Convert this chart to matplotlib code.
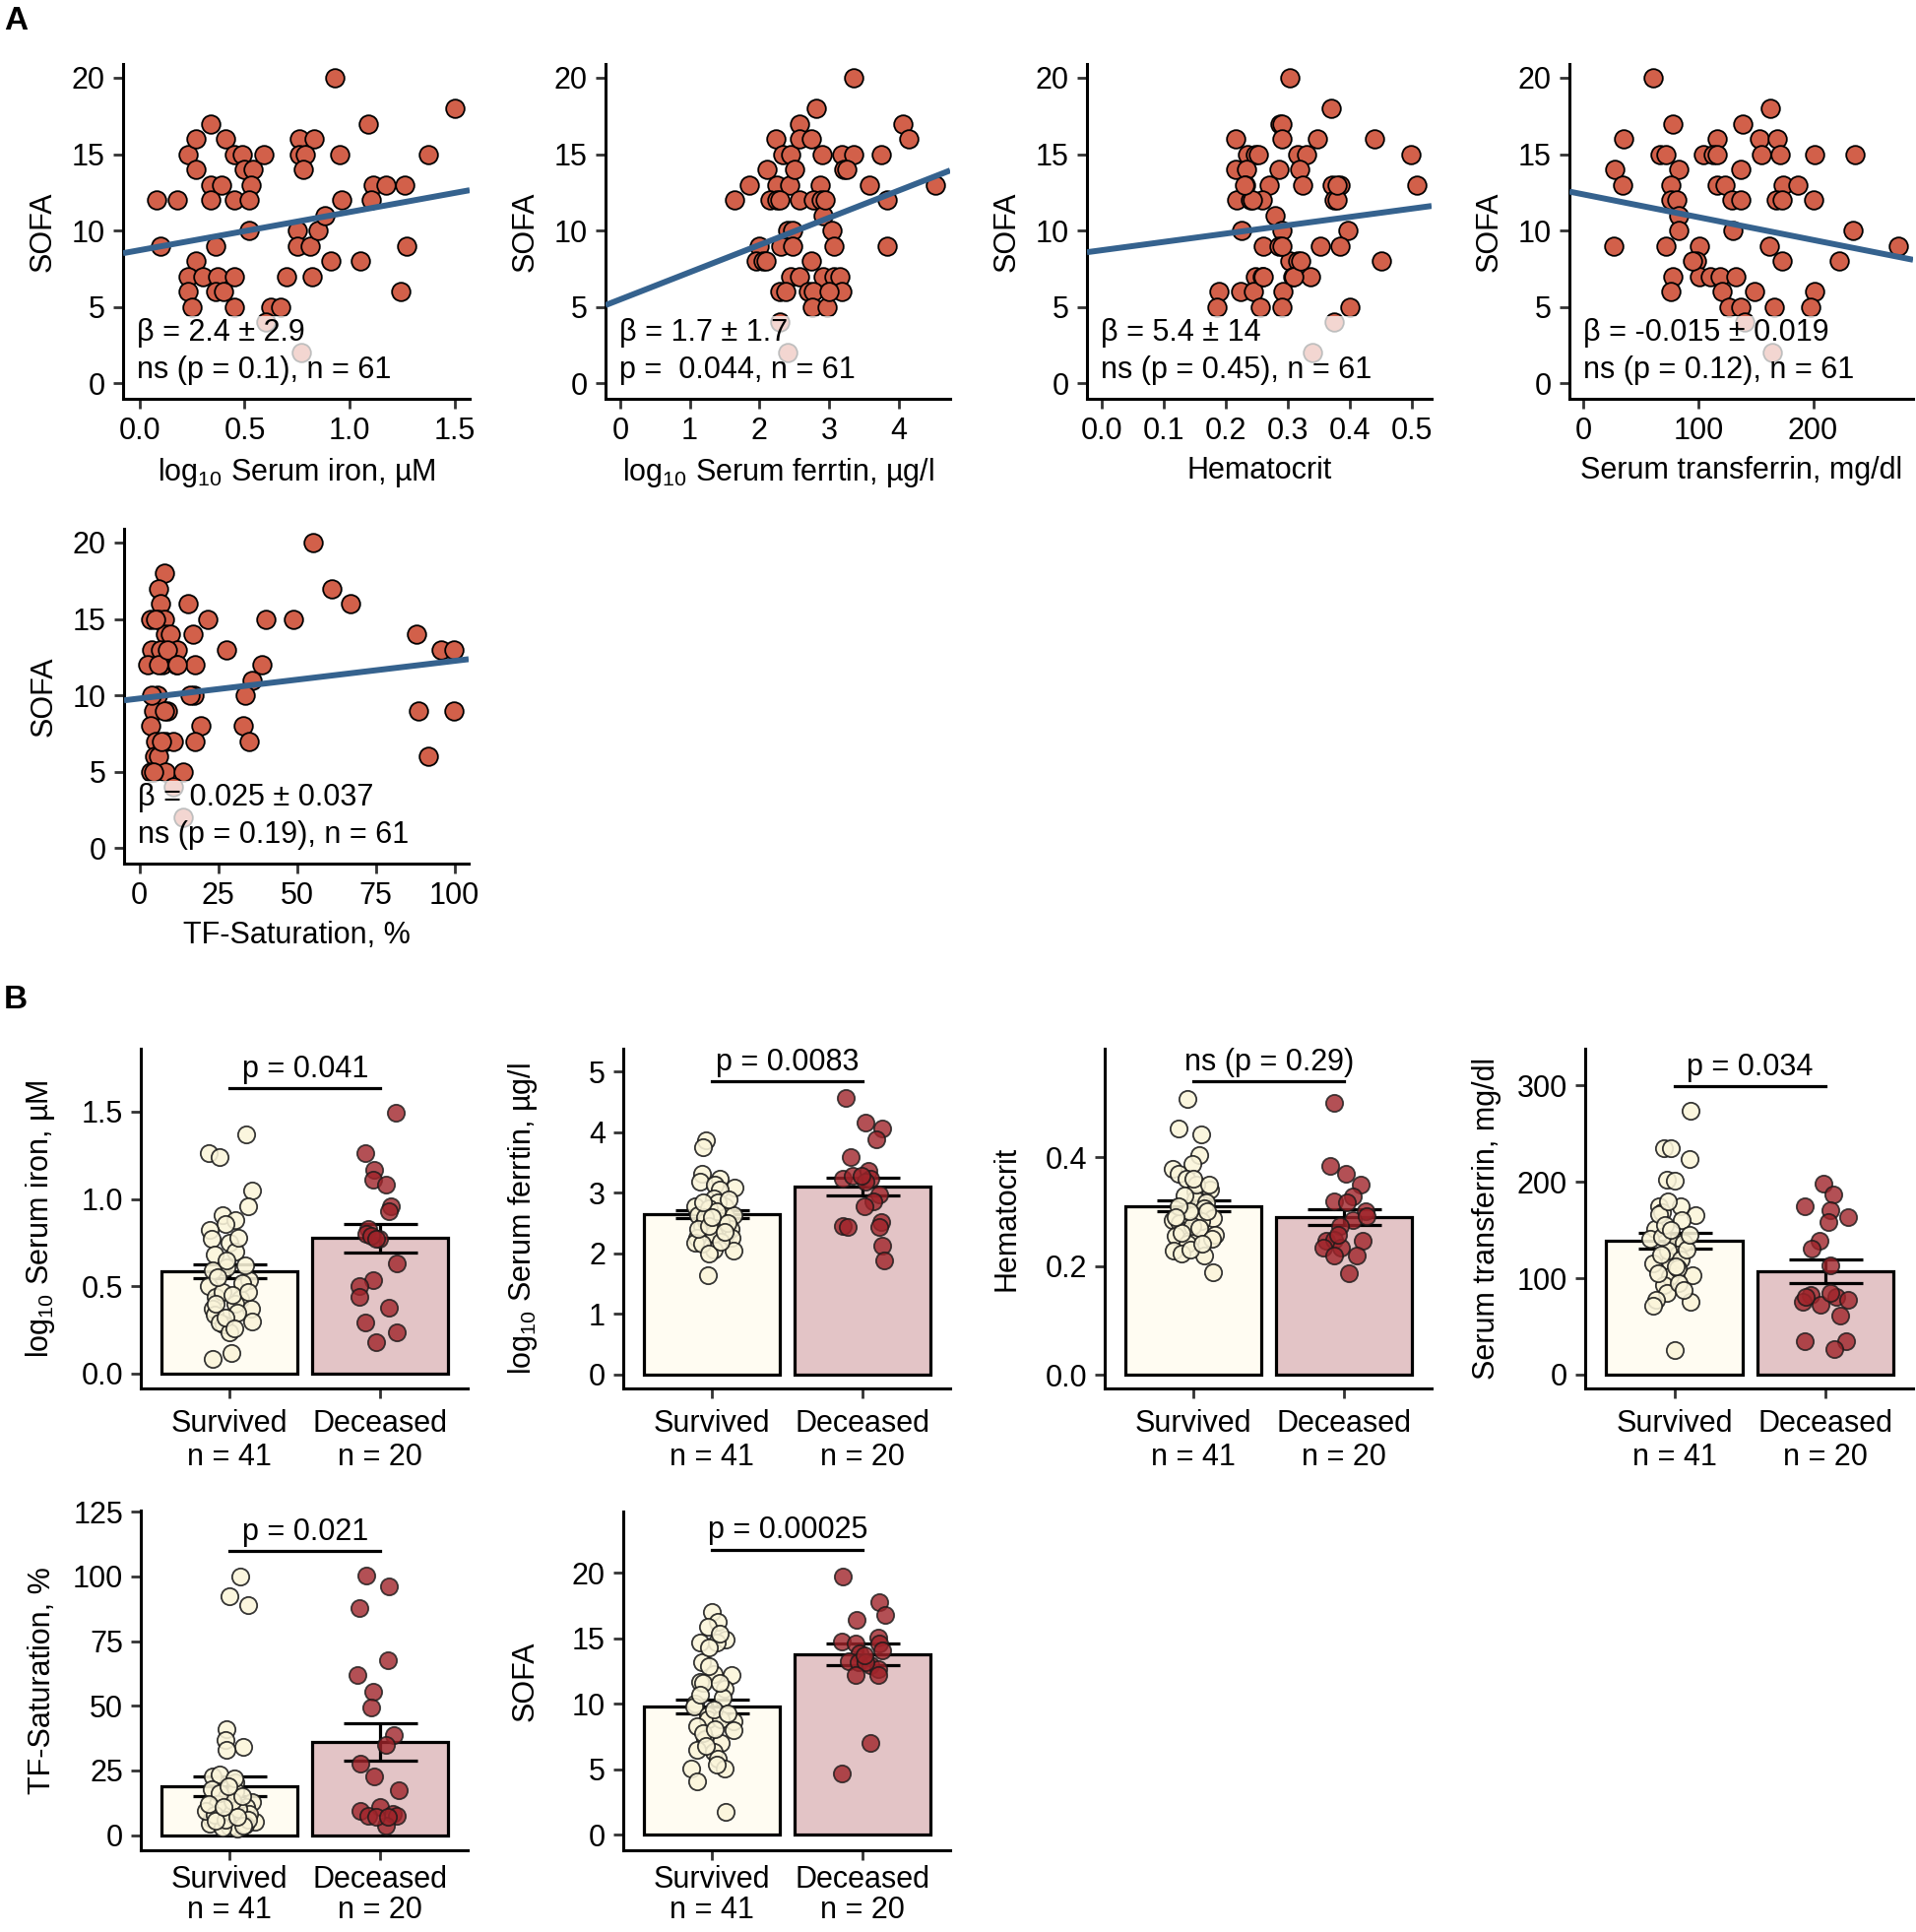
import numpy as np
import matplotlib
matplotlib.use('Agg')
import matplotlib.pyplot as plt

plt.rcParams['font.family'] = ['Liberation Sans', 'DejaVu Sans']
plt.rcParams['mathtext.fontset'] = 'custom'
plt.rcParams['mathtext.rm'] = 'Liberation Sans'
plt.rcParams['mathtext.it'] = 'Liberation Sans:italic'
plt.rcParams['mathtext.bf'] = 'Liberation Sans:bold'

# ---------------- panel A: SOFA vs iron parameters ----------------
iron_x = [0.083, 0.18, 0.10, 0.23, 0.27, 0.27, 0.34, 0.34, 0.39, 0.34, 0.41, 0.45, 0.49, 0.50, 0.54, 0.53,
          0.45, 0.52, 0.59, 0.52, 0.36, 0.27, 0.23, 0.30, 0.37, 0.45, 0.23, 0.36, 0.40, 0.25, 0.45, 0.625,
          0.67, 0.70, 0.60, 0.77, 0.76, 0.83, 0.76, 0.79, 0.78, 0.75, 0.75, 0.81, 0.85, 0.88, 0.82, 0.91,
          0.93, 0.95, 0.96, 1.09, 1.11, 1.10, 1.17, 1.26, 1.05, 1.27, 1.24, 1.375, 1.5]
iron_sofa = [12, 12, 9, 15, 16, 14, 17, 13, 13, 12, 16, 15, 15, 14, 14, 13, 12, 12, 15, 10, 9, 8, 7, 7, 7, 7,
             6, 6, 6, 5, 5, 5, 5, 7, 4, 2, 16, 16, 15, 15, 14, 10, 9, 9, 10, 11, 7, 8, 20, 15, 12, 17, 13, 12,
             13, 13, 8, 9, 6, 15, 18]

fer_x = [1.64, 1.85, 2.11, 2.23, 2.33, 2.45, 2.25, 2.44, 2.15, 2.25, 2.50, 2.57, 2.58, 2.57, 2.74, 2.81, 2.90,
         2.88, 2.78, 2.89, 2.92, 3.04, 3.07, 3.18, 3.35, 3.21, 3.25, 3.35, 3.58, 3.75, 3.84, 3.84, 4.06, 4.14,
         4.53, 2.40, 2.48, 2.0, 2.31, 2.48, 1.96, 2.05, 2.74, 2.45, 2.57, 2.92, 3.07, 3.15, 2.29, 2.38, 2.71,
         2.78, 3.18, 2.76, 2.97, 2.29, 2.40, 2.3, 2.95, 2.1, 3.0]
fer_sofa = [12, 13, 14, 16, 15, 15, 13, 13, 12, 12, 14, 12, 17, 16, 16, 18, 15, 13, 12, 12, 11, 10, 9, 15, 15,
            14, 14, 20, 13, 15, 12, 9, 17, 16, 13, 10, 10, 9, 9, 9, 8, 8, 8, 7, 7, 7, 7, 7, 6, 6, 6, 6, 6, 5, 5,
            4, 2, 12, 12, 8, 6]

hct_x = [0.303, 0.37, 0.287, 0.29, 0.216, 0.29, 0.348, 0.44, 0.235, 0.247, 0.253, 0.316, 0.33, 0.499, 0.216,
         0.234, 0.286, 0.319, 0.232, 0.27, 0.324, 0.372, 0.385, 0.508, 0.217, 0.24, 0.258, 0.375, 0.38, 0.28,
         0.226, 0.29, 0.397, 0.26, 0.286, 0.353, 0.385, 0.303, 0.316, 0.451, 0.247, 0.258, 0.308, 0.337, 0.189,
         0.224, 0.245, 0.292, 0.185, 0.255, 0.29, 0.40, 0.374, 0.34, 0.243, 0.31, 0.32, 0.29, 0.23, 0.38, 0.26]
hct_sofa = [20, 18, 17, 17, 16, 16, 16, 16, 15, 15, 15, 15, 15, 15, 14, 14, 14, 14, 13, 13, 13, 13, 13, 13, 12,
            12, 12, 12, 12, 11, 10, 10, 10, 9, 9, 9, 9, 8, 8, 8, 7, 7, 7, 7, 6, 6, 6, 6, 5, 5, 5, 5, 4, 2, 12, 7,
            8, 9, 13, 13, 7]

trf_x = [61, 163, 78, 139, 35, 116, 153, 169, 67, 72, 104, 113, 155, 171, 201, 236, 27, 83, 137, 34, 76, 116,
         123, 174, 187, 76, 81, 129, 137, 168, 173, 200, 83, 83, 130, 235, 26, 72, 101, 162, 274, 98, 173, 223,
         78, 101, 110, 119, 133, 76, 121, 149, 201, 127, 137, 166, 198, 140, 164, 116, 95]
trf_sofa = [20, 18, 17, 17, 16, 16, 16, 16, 15, 15, 15, 15, 15, 15, 15, 15, 14, 14, 14, 13, 13, 13, 13, 13, 13,
            12, 12, 12, 12, 12, 12, 12, 11, 10, 10, 10, 9, 9, 9, 9, 9, 8, 8, 8, 7, 7, 7, 7, 7, 6, 6, 6, 6, 5, 5,
            5, 5, 4, 2, 15, 8]

sat_x = [55, 7.8, 6, 61, 6.8, 15.3, 67, 3.4, 6, 7.8, 21.6, 40, 48.8, 8.3, 9.7, 17, 87.8, 3.9, 6.6, 12, 27.6,
         95.8, 99.7, 2.6, 7.3, 11.8, 17.7, 38.9, 35.7, 5.7, 17.2, 33.6, 4.5, 8.9, 88.5, 99.7, 3.6, 19.5, 32.8,
         5, 8.1, 10.7, 17.7, 34.9, 4.7, 6, 91.7, 3.6, 8.3, 13.9, 10.7, 14, 5, 6, 4, 7, 9, 4.5, 12, 16, 8]
sat_sofa = [20, 18, 17, 17, 16, 16, 16, 15, 15, 15, 15, 15, 15, 14, 14, 14, 14, 13, 13, 13, 13, 13, 13, 12, 12,
            12, 12, 12, 11, 10, 10, 10, 9, 9, 9, 9, 8, 8, 8, 7, 7, 7, 7, 7, 6, 6, 6, 5, 5, 5, 4, 2, 15, 12, 10,
            7, 13, 5, 12, 10, 9]

# linear fits (intercept, slope) as drawn in the figure
iron_fit = (8.72, 2.5)
fer_fit = (5.5, 1.78)
hct_fit = (8.72, 5.44)
trf_fit = (12.37, -0.0149)
sat_fit = (9.8, 0.0246)

iron_label = 'β = 2.4 ± 2.9\nns (p = 0.1), n = 61'
fer_label = 'β = 1.7 ± 1.7\np =  0.044, n = 61'
hct_label = 'β = 5.4 ± 14\nns (p = 0.45), n = 61'
trf_label = 'β = -0.015 ± 0.019\nns (p = 0.12), n = 61'
sat_label = 'β = 0.025 ± 0.037\nns (p = 0.19), n = 61'

# ---------------- panel B: survived vs deceased ----------------
groups = ['Survived\nn = 41', 'Deceased\nn = 20']

iron_surv = [1.37, 1.26, 1.24, 1.05, 0.96, 0.91, 0.88, 0.855, 0.82, 0.77, 0.75, 0.70, 0.68, 0.61, 0.59, 0.535,
             0.50, 0.44, 0.43, 0.40, 0.37, 0.37, 0.35, 0.34, 0.30, 0.28, 0.29, 0.235, 0.12, 0.085, 0.52, 0.47,
             0.45, 0.55, 0.62, 0.65, 0.78, 0.40, 0.47, 0.32, 0.26]
iron_surv_dx = [0.11, -0.14, -0.065, 0.15, 0.12, -0.05, 0.04, -0.03, -0.13, -0.12, 0, 0.04, -0.1, -0.02, -0.11,
                0.13, -0.14, -0.09, 0.07, 0.04, -0.11, 0.14, 0.05, -0.1, 0.15, -0.04, -0.07, 0, 0.01, -0.11,
                0.08, -0.05, 0.02, -0.08, 0.1, -0.02, 0.06, -0.09, 0.12, -0.03, 0.03]
iron_dec = [1.495, 1.26, 1.165, 1.11, 1.08, 0.96, 0.93, 0.83, 0.80, 0.77, 0.79, 0.63, 0.535, 0.50, 0.44, 0.375,
            0.29, 0.235, 0.18, 0.77]
iron_dec_dx = [0.10, -0.10, -0.04, -0.05, 0.04, 0.07, 0.06, -0.08, -0.09, -0.01, -0.06, 0.11, -0.05, -0.14,
               -0.14, 0.06, -0.10, 0.11, -0.03, -0.03]

fer_surv = [3.86, 3.75, 3.32, 3.19, 3.24, 3.13, 3.08, 3.05, 2.91, 2.78, 2.78, 2.64, 2.62, 2.64, 2.45, 2.40,
            2.37, 2.32, 2.26, 2.26, 2.18, 2.07, 2.05, 1.64, 2.85, 2.53, 2.75, 2.53, 2.32, 2.16, 1.99, 2.7, 2.6,
            2.5, 2.4, 2.2, 2.45, 2.9, 2.85, 2.6, 2.35]
fer_surv_dx = [-0.04, -0.06, -0.07, -0.08, 0.05, 0.02, 0.15, 0.05, 0.01, -0.11, 0.08, -0.09, 0.09, 0.14, -0.07,
               0.12, 0.05, 0.09, -0.10, 0.13, -0.11, 0.01, 0.14, -0.03, 0.04, -0.04, -0.02, 0.06, 0.01, -0.07,
               -0.02, 0.03, -0.05, 0.1, -0.09, 0.06, -0.02, 0.11, -0.06, 0.0, 0.08]
fer_dec = [4.57, 4.16, 4.06, 3.89, 3.59, 3.24, 3.29, 3.37, 3.24, 3.19, 2.97, 2.86, 2.78, 2.45, 2.43, 2.51, 2.43,
           2.13, 1.89, 3.29]
fer_dec_dx = [-0.11, 0.02, 0.13, 0.09, -0.08, -0.13, -0.07, 0.04, 0.05, 0.02, 0.11, 0.07, 0.01, -0.13, -0.10,
              0.12, 0.11, 0.13, 0.14, -0.01]

hct_surv = [0.507, 0.452, 0.442, 0.403, 0.388, 0.378, 0.37, 0.36, 0.337, 0.34, 0.322, 0.316, 0.306, 0.294,
            0.285, 0.288, 0.279, 0.264, 0.258, 0.255, 0.249, 0.241, 0.228, 0.222, 0.219, 0.189, 0.282, 0.273,
            0.35, 0.33, 0.30, 0.30, 0.27, 0.31, 0.25, 0.23, 0.24, 0.26, 0.36, 0.35, 0.29]
hct_surv_dx = [-0.04, -0.10, 0.05, 0.04, -0.01, -0.14, -0.10, -0.05, 0.01, 0.11, 0.01, 0.08, 0.07, 0, -0.14,
               0.13, -0.09, -0.07, 0.14, -0.12, -0.02, -0.04, -0.13, -0.08, 0.07, 0.13, 0.05, -0.01, 0.02,
               -0.06, 0.09, -0.03, 0.04, -0.1, 0.12, -0.02, 0.06, -0.08, 0.0, 0.1, -0.12]
hct_dec = [0.50, 0.384, 0.37, 0.349, 0.319, 0.328, 0.316, 0.30, 0.285, 0.273, 0.246, 0.249, 0.246, 0.234,
           0.234, 0.219, 0.219, 0.186, 0.291, 0.258]
hct_dec_dx = [-0.07, -0.09, 0.01, 0.11, -0.07, 0.06, 0.02, 0.14, 0.06, -0.03, -0.12, -0.07, 0.12, -0.02, -0.14,
              -0.07, 0.08, 0.03, 0.15, -0.04]

trf_surv = [274, 235, 235, 224, 202, 201, 175, 175, 168, 165, 151, 141, 137, 137, 125, 115, 117, 103, 102, 93,
            85, 78, 71, 76, 25.6, 166, 129, 119, 143, 110, 160, 155, 130, 105, 95, 150, 145, 125, 88, 180, 112]
trf_surv_dx = [0.11, -0.07, -0.02, 0.10, -0.05, 0, 0.04, -0.10, -0.08, 0.14, -0.13, -0.16, -0.01, 0.06, 0.02,
               -0.14, -0.03, 0.12, -0.03, -0.07, -0.05, -0.12, -0.14, 0.11, 0, -0.10, -0.04, 0.04, -0.08, 0.02,
               0.05, -0.06, 0.08, -0.11, 0.03, -0.02, 0.1, -0.09, 0.06, -0.04, 0.01]
trf_dec = [198, 187, 175, 171, 163, 158, 139, 131, 113, 83, 81, 78, 76, 73, 61, 35, 35, 27, 81, 85]
trf_dec_dx = [-0.01, 0.05, -0.14, 0.03, 0.15, 0.02, -0.04, -0.09, 0.03, -0.10, 0.07, 0.15, -0.15, -0.03, 0.10,
              -0.14, 0.14, 0.06, -0.13, 0.03]

sat_surv = [100, 92.4, 88.9, 41, 36.6, 34, 32.8, 22.7, 23.3, 20.2, 17.7, 14.5, 12.6, 10.7, 7.6, 6.3, 5, 3.2,
            2.5, 4.4, 8.2, 9.5, 12, 17, 9.5, 3, 4, 8, 10, 6, 13, 16, 15, 6, 12, 22, 19, 3.5, 5.5, 7, 11]
sat_surv_dx = [0.07, 0, 0.12, -0.02, -0.03, 0.09, -0.02, -0.11, -0.07, 0.04, -0.12, -0.02, 0.15, 0.11, 0.08,
               -0.12, 0.17, 0, 0.05, -0.13, 0.13, 0, -0.08, 0.04, -0.16, -0.05, 0.1, -0.1, 0.06, -0.03, 0.02,
               -0.07, 0.08, 0.12, -0.14, 0.03, -0.01, 0.09, -0.09, 0.05, -0.04]
sat_dec = [100.3, 96.3, 87.9, 67.5, 61.8, 55.5, 49.2, 38.7, 34.9, 27.7, 22.7, 17.3, 9.5, 10.7, 7.6, 8.2, 7.6,
           3.8, 6.9, 6.9]
sat_dec_dx = [-0.09, 0.06, -0.14, 0.05, -0.15, -0.05, -0.06, 0.09, 0.04, -0.13, -0.04, 0.12, -0.13, 0, -0.08,
              0.08, 0.11, 0.04, -0.03, 0.05]

sofa_surv = [17, 16.3, 15.9, 14.9, 14.7, 14.7, 13.2, 12.3, 12.2, 11.7, 11.2, 10.5, 10.0, 9.8, 9.1, 8.7, 8.8,
             8.8, 8.3, 8.0, 7.3, 7.0, 6.5, 6.35, 5.85, 5.1, 5.1, 4.1, 1.8, 11.6, 15.4, 14.3, 9.6, 7.8, 5.4,
             10.7, 9.3, 12.9, 8.1, 6.8, 11.6]
sofa_surv_dx = [0, 0.04, -0.03, 0.09, -0.08, 0.03, -0.07, 0.01, 0.13, -0.08, 0.08, 0.07, -0.11, -0.12, -0.03,
                0.14, -0.03, 0.06, -0.10, 0.14, -0.05, 0.06, -0.10, 0.01, 0.04, -0.14, 0.08, -0.10, 0.09, -0.06,
                0.05, -0.02, 0.01, -0.06, 0.03, -0.08, 0.1, -0.02, 0.02, -0.04, 0.05]
sofa_dec = [19.75, 17.8, 16.8, 16.4, 14.8, 14.6, 15.1, 14.6, 14.1, 13.9, 13.3, 13.2, 13.0, 12.7, 13.2, 12.2,
            12.2, 7.0, 4.7, 13.7]
sofa_dec_dx = [-0.13, 0.11, 0.15, -0.04, -0.14, -0.05, 0.10, 0.11, 0.13, -0.02, -0.09, -0.03, 0.05, 0.10, 0.02,
               -0.05, 0.10, 0.05, -0.14, 0.01]

# group means and SEM as shown by bars / error bars
iron_mean, iron_sem = [0.585, 0.775], [0.04, 0.08]
fer_mean, fer_sem = [2.65, 3.10], [0.06, 0.15]
hct_mean, hct_sem = [0.31, 0.29], [0.01, 0.015]
trf_mean, trf_sem = [139, 107], [8, 12]
sat_mean, sat_sem = [18.7, 36], [3.8, 7.3]
sofa_mean, sofa_sem = [9.8, 13.8], [0.55, 0.8]

# ---------------- styling ----------------
FS = 22
W, H = 1946, 1962
POINT_RED = '#D2604A'
LINE_BLUE = '#35628E'
SURV_BAR = '#FFFCF2'
DEC_BAR = '#E3C4C6'
SURV_PT = '#FBF5DA'
DEC_PT = '#A0242A'

fig = plt.figure(figsize=(W / 100, H / 100), dpi=100)


def rect(left, top, width, height):
    return [left / W, 1 - (top + height) / H, width / W, height / H]


def style(ax):
    for s in ['top', 'right']:
        ax.spines[s].set_visible(False)
    for s in ['left', 'bottom']:
        ax.spines[s].set_linewidth(2.2)
        ax.spines[s].set_color('black')
    ax.tick_params(axis='both', length=7, width=2, color='#333333', labelsize=FS, labelcolor='black')
    ax.tick_params(axis='y', pad=6)
    ax.tick_params(axis='x', pad=6)


def scatter_panel(r, x, y, fit, xlim, xticks, xticklabels, xlabel, label):
    ax = fig.add_axes(r)
    ax.scatter(x, y, s=180, color=POINT_RED, edgecolors='black', linewidths=1.3, zorder=3)
    xs = np.array(xlim)
    ax.plot(xs, fit[0] + fit[1] * xs, color=LINE_BLUE, lw=4.3, zorder=4, solid_capstyle='butt')
    ax.text(0.04, 0.142, label, transform=ax.transAxes, fontsize=FS, ha='left', va='center',
            linespacing=1.33, zorder=5,
            bbox=dict(boxstyle='square,pad=0.05', facecolor='white', edgecolor='none', alpha=0.75))
    ax.set_xlim(xlim)
    ax.set_ylim(-1, 20.9)
    ax.set_xticks(xticks)
    ax.set_xticklabels(xticklabels)
    ax.set_yticks([0, 5, 10, 15, 20])
    ax.set_ylabel('SOFA', fontsize=FS)
    ax.yaxis.set_label_coords(-0.19, 0.5)
    ax.set_xlabel(xlabel, fontsize=FS)
    ax.xaxis.set_label_coords(0.5, -0.17)
    style(ax)
    return ax


def bar_panel(r, surv, surv_dx, dec, dec_dx, means, sems, ylim, yticks, yticklabels, ylabel, sig_y, sig_text,
              xpad=8, xspacing=1.2):
    ax = fig.add_axes(r)
    ax.bar([0, 1], means, width=0.9, color=[SURV_BAR, DEC_BAR], edgecolor='black', linewidth=2.3, zorder=1)
    ax.errorbar([0, 1], means, yerr=sems, fmt='none', ecolor='black', elinewidth=2.3,
                capsize=27, capthick=2.3, zorder=2)
    ax.scatter(0 + np.array(surv_dx), surv, s=155, color=SURV_PT, edgecolors='#1a1a1a',
               linewidths=1.3, alpha=0.88, zorder=3)
    ax.scatter(1 + np.array(dec_dx), dec, s=155, color=DEC_PT, edgecolors='#1a1a1a',
               linewidths=1.3, alpha=0.8, zorder=3)
    ax.plot([0, 1], [sig_y, sig_y], color='black', lw=2.3, zorder=4)
    ax.annotate(sig_text, (0.5, sig_y), xytext=(0, 3), textcoords='offset points',
                ha='center', va='bottom', fontsize=FS)
    ax.set_xlim(-0.59, 1.58)
    ax.set_ylim(ylim)
    ax.set_xticks([0, 1])
    ax.set_xticklabels(groups, linespacing=xspacing)
    ax.set_yticks(yticks)
    ax.set_yticklabels(yticklabels)
    ax.set_ylabel(ylabel, fontsize=FS)
    ax.yaxis.set_label_coords(-0.255, 0.5)
    style(ax)
    ax.tick_params(axis='x', pad=xpad)
    return ax


log10 = r'log$_{\mathregular{10}}$'

scatter_panel(rect(125, 65, 352, 340), iron_x, iron_sofa, iron_fit, (-0.078, 1.57),
              [0, 0.5, 1.0, 1.5], ['0.0', '0.5', '1.0', '1.5'], log10 + ' Serum iron, µM', iron_label)
scatter_panel(rect(615, 65, 350, 340), fer_x, fer_sofa, fer_fit, (-0.21, 4.74),
              [0, 1, 2, 3, 4], ['0', '1', '2', '3', '4'], log10 + ' Serum ferrtin, µg/l', fer_label)
scatter_panel(rect(1104, 65, 350, 340), hct_x, hct_sofa, hct_fit, (-0.024, 0.532),
              [0, 0.1, 0.2, 0.3, 0.4, 0.5], ['0.0', '0.1', '0.2', '0.3', '0.4', '0.5'], 'Hematocrit', hct_label)
scatter_panel(rect(1594, 65, 349, 340), trf_x, trf_sofa, trf_fit, (-12.3, 287),
              [0, 100, 200], ['0', '100', '200'], 'Serum transferrin, mg/dl', trf_label)
scatter_panel(rect(126, 537, 350, 340), sat_x, sat_sofa, sat_fit, (-4.9, 104.5),
              [0, 25, 50, 75, 100], ['0', '25', '50', '75', '100'], 'TF-Saturation, %', sat_label)

bar_panel(rect(143, 1065, 332, 345), iron_surv, iron_surv_dx, iron_dec, iron_dec_dx, iron_mean, iron_sem,
          (-0.085, 1.86), [0, 0.5, 1.0, 1.5], ['0.0', '0.5', '1.0', '1.5'], log10 + ' Serum iron, µM',
          1.635, 'p = 0.041')
bar_panel(rect(633, 1065, 332, 345), fer_surv, fer_surv_dx, fer_dec, fer_dec_dx, fer_mean, fer_sem,
          (-0.23, 5.38), [0, 1, 2, 3, 4, 5], ['0', '1', '2', '3', '4', '5'], log10 + ' Serum ferrtin, µg/l',
          4.84, 'p = 0.0083')
bar_panel(rect(1122, 1065, 332, 345), hct_surv, hct_surv_dx, hct_dec, hct_dec_dx, hct_mean, hct_sem,
          (-0.025, 0.599), [0, 0.2, 0.4], ['0.0', '0.2', '0.4'], 'Hematocrit',
          0.539, 'ns (p = 0.29)')
bar_panel(rect(1610, 1065, 333, 345), trf_surv, trf_surv_dx, trf_dec, trf_dec_dx, trf_mean, trf_sem,
          (-14.3, 338), [0, 100, 200, 300], ['0', '100', '200', '300'], 'Serum transferrin, mg/dl',
          298.7, 'p = 0.034')
bar_panel(rect(143, 1534, 332, 345), sat_surv, sat_surv_dx, sat_dec, sat_dec_dx, sat_mean, sat_sem,
          (-5.9, 125.5), [0, 25, 50, 75, 100, 125], ['0', '25', '50', '75', '100', '125'], 'TF-Saturation, %',
          109.7, 'p = 0.021', xpad=4, xspacing=1.02)
bar_panel(rect(633, 1535, 332, 344), sofa_surv, sofa_surv_dx, sofa_dec, sofa_dec_dx, sofa_mean, sofa_sem,
          (-1.17, 24.7), [0, 5, 10, 15, 20], ['0', '5', '10', '15', '20'], 'SOFA',
          21.8, 'p = 0.00025', xpad=4, xspacing=1.02)

fig.text(4 / W, 1 - 22 / H, 'A', fontsize=24, fontweight='bold', ha='left', va='center')
fig.text(4 / W, 1 - 1016 / H, 'B', fontsize=24, fontweight='bold', ha='left', va='center')

fig.savefig('out.png', dpi=100)
